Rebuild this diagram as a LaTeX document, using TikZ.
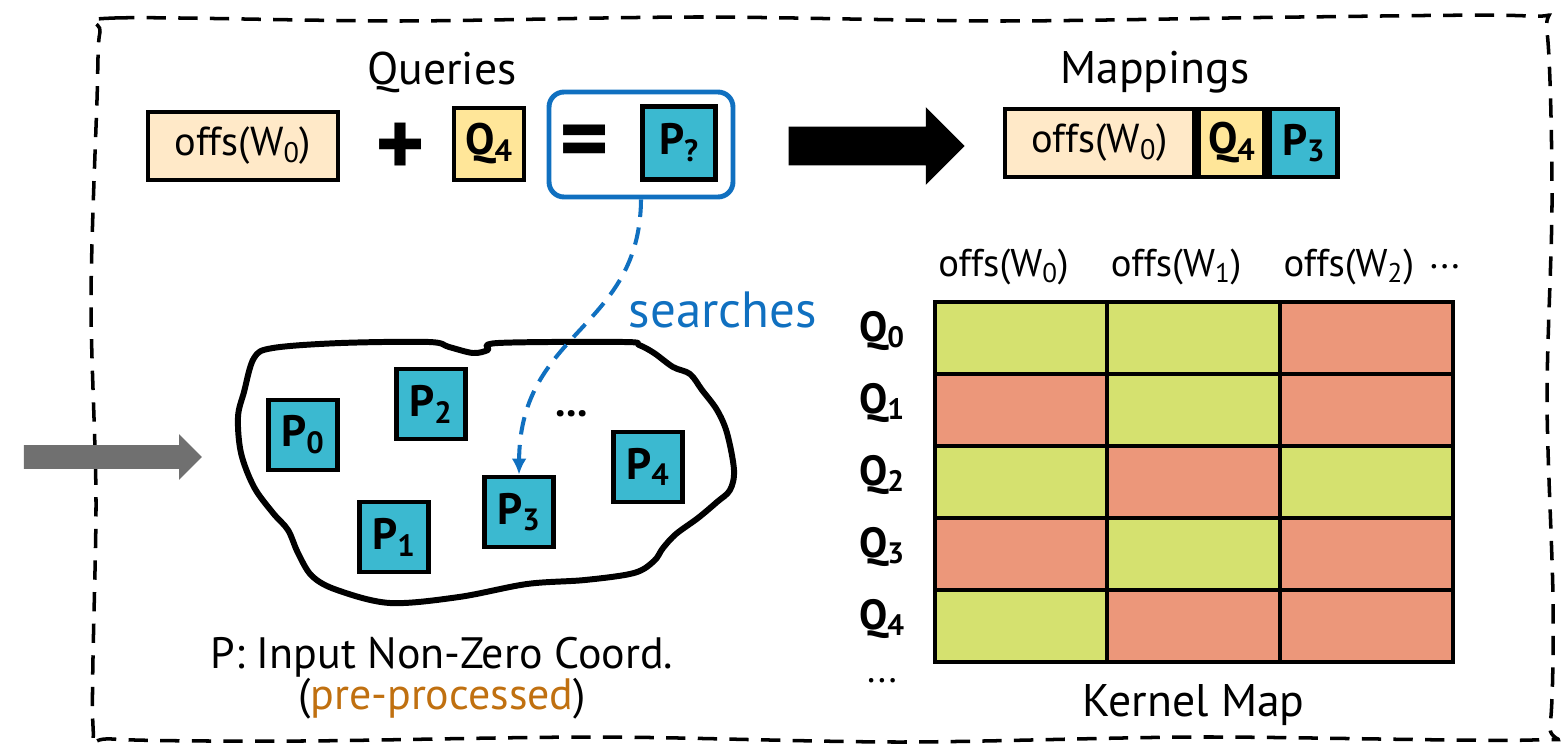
\documentclass[tikz,border=0pt]{standalone}
\usepackage{fontspec}
\setmainfont{PT Sans}
\usepackage{xcolor}
\usepackage{tikz}
\usetikzlibrary{positioning,arrows.meta,shapes,fit,calc}
\definecolor{offfill}{HTML}{FFE9C8}
\definecolor{qfill}{HTML}{FFE699}
\definecolor{pfill}{HTML}{3BB9D0}
\definecolor{sblue}{HTML}{1070C0}
\definecolor{kg}{HTML}{D5E16F}
\definecolor{kr}{HTML}{EC977A}
\definecolor{preorange}{HTML}{C07010}
\definecolor{arrgray}{HTML}{707070}
\tikzset{
  box/.style={draw,line width=2.8pt,inner sep=0pt,align=center,
             font=\fontsize{23}{25}\selectfont},
  offbox/.style={box,fill=offfill,minimum width=38mm,minimum height=13.6mm},
  qbox/.style={box,fill=qfill,minimum width=14mm,minimum height=14.4mm,
             font=\fontsize{25}{26}\selectfont\bfseries},
  pbox/.style={box,fill=pfill,minimum width=13.8mm,minimum height=14mm,
             font=\fontsize{25}{26}\selectfont\bfseries},
  title/.style={font=\fontsize{26}{30}\selectfont,inner sep=0pt},
  bigsym/.style={font=\fontsize{54}{54}\selectfont\bfseries,inner sep=0pt},
  eqframe/.style={draw=sblue,line width=2.8pt,rounded corners=3mm,
             minimum width=36.8mm,minimum height=21mm},
  kcell/.style={draw,line width=2.2pt,minimum width=34.54mm,minimum height=14.4mm,
             inner sep=0pt},
  qlabel/.style={font=\fontsize{24}{26}\selectfont\bfseries,inner sep=0pt},
  hdr/.style={font=\fontsize{22}{25}\selectfont,inner sep=0pt},
  blob/.style={line width=3.4pt,line join=round},
  frame/.style={line width=2pt,dash pattern=on 11pt off 7pt},
  bigarrow/.style={single arrow,fill=black,inner xsep=0pt,inner ysep=3.8mm,
             minimum height=35.2mm,minimum width=15.4mm,single arrow head extend=3.9mm},
  grayarrow/.style={single arrow,fill=arrgray,inner xsep=0pt,inner ysep=2.3mm,
             minimum height=35.6mm,minimum width=8.8mm,single arrow head extend=2.2mm},
  search/.style={-{Latex[length=3.2mm,width=3mm]},sblue,line width=2.3pt,
             dash pattern=on 10pt off 6pt},
}
\begin{document}
\begin{tikzpicture}[x=0.02cm,y=-0.02cm]
  \useasboundingbox (0,0) rectangle (1567,750);
  % outer dashed frame
  \draw[frame] plot[smooth cycle,tension=0.5] coordinates {
    (100,32) (115,18) (400,21) (700,17) (1000,21) (1300,17) (1528,16) (1547,32)
    (1552,200) (1547,400) (1553,600) (1550,725) (1532,740) (1200,737) (900,742)
    (600,737) (300,741) (112,739) (93,726) (96,500) (91,300) (97,100)};
  % queries row
  \node[title] (queries) at (442,72) {Queries};
  \node[offbox] (qo) at (243,146) {offs(W\textsubscript{0})};
  \node[bigsym] (plus) at (400,150) {+};
  \node[qbox] (qq) at (489,144) {Q\textsubscript{4}};
  \node[eqframe] (eqbox) at (641,144.5) {};
  \node[bigsym] (eq) at (584,148) {=};
  \node[pbox,minimum width=14.6mm,minimum height=14.6mm] (pq) at (679,143) {P\textsubscript{?}};
  \node[bigarrow] (fwd) at (867,146) {};
  % mappings row
  \node[title] (mappings) at (1155,72) {Mappings};
  \node[offbox,minimum width=37.8mm] (mo) at (1099.5,143) {offs(W\textsubscript{0})};
  \node[qbox,minimum width=13.2mm,minimum height=13.6mm,right=0pt of mo] (mq) {Q\textsubscript{4}};
  \node[pbox,minimum width=13.6mm,minimum height=13.6mm,right=0pt of mq] (mp) {P\textsubscript{3}};
  % input coordinates
  \node[grayarrow] (inarrow) at (107,457) {};
  \draw[blob] plot[smooth cycle,tension=0.55] coordinates {
    (254,358) (273,348) (341,343) (429,342) (449,347) (473,353) (488,350) (498,343)
    (624,342) (639,345) (654,353) (673,367) (690,374) (702,390) (717,410) (727,433)
    (734,470) (730,490) (717,502) (698,518) (676,534) (663,548) (654,561) (634,573)
    (585,580) (527,584) (459,597) (390,603) (337,590) (312,576) (298,553) (288,530)
    (273,513) (254,487) (241,453) (238,417) (244,392)};
  \node[pbox] (p0) at (303,435) {P\textsubscript{0}};
  \node[pbox] (p2) at (431,404) {P\textsubscript{2}};
  \node[pbox] (p1) at (394,537) {P\textsubscript{1}};
  \node[pbox] (p3) at (519,512) {P\textsubscript{3}};
  \node[pbox] (p4) at (648,467) {P\textsubscript{4}};
  \node[qlabel] (pdots) at (572,414) {...};
  \draw[search] (eqbox.south) .. controls (640,330) and (520,330) .. (p3.north);
  \node[title,text=sblue,font=\fontsize{29}{32}\selectfont] (searches) at (723,310) {searches};
  \node[hdr,align=center,font=\fontsize{25}{23}\selectfont] (pnote) at (442,678)
    {P: Input Non-Zero Coord.\\(\textcolor{preorange}{pre-processed})};
  % kernel map
  \foreach \r/\cols in {0/{kg,kg,kr},1/{kr,kg,kr},2/{kg,kr,kg},3/{kr,kg,kr},4/{kg,kr,kr}} {
    \foreach \c [count=\i from 0] in \cols {
      \node[kcell,fill=\c] (k\r\i) at ({1021+172.7*\i},{338+72*\r}) {};
    }
    \node[qlabel,left=5.5mm of k\r0,yshift=1.5mm] (q\r) {Q\textsubscript{\r}};
  }
  \foreach \i in {0,1,2} {
    \node[hdr,above=3mm of k0\i,xshift=-3.5mm] (h\i) {offs(W\textsubscript{\i})};
  }
  \node[hdr,right=3mm of h2] (hdots) {...};
  \node[hdr,below=8mm of q4] (qdots) {...};
  \node[title,below=4mm of k41] (kmap) {Kernel Map};
\end{tikzpicture}
\end{document}
